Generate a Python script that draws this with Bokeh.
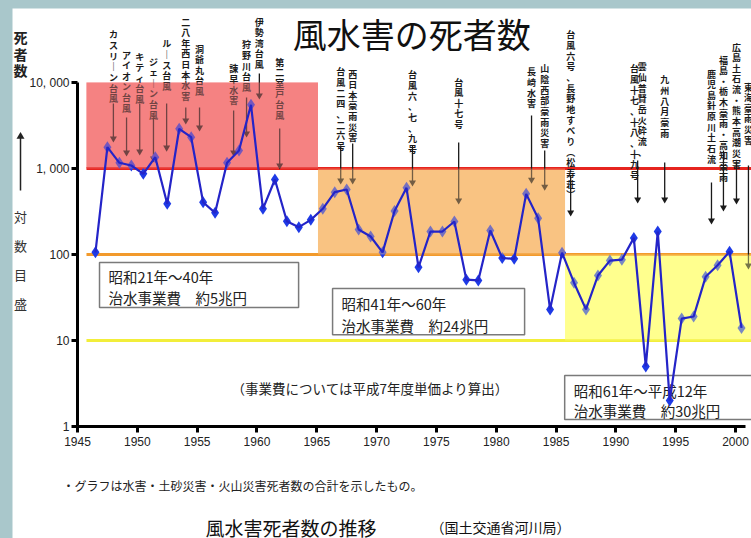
from bokeh.plotting import figure
from bokeh.models import FixedTicker
from bokeh.layouts import column
from bokeh.embed import file_html
from bokeh.resources import INLINE
from bokeh.core.properties import value

# ---------------- data ----------------
years = list(range(1946, 2001))
deaths = [106, 1770, 1165, 1084, 868, 1353, 389, 2897, 2313, 405,
          305, 1165, 1620, 5508, 340, 745, 244, 208, 253, 340,
          531, 570, 195, 162, 106, 320, 596, 71, 185, 185,
          242, 51, 50, 190, 91, 89, 507, 264, 23, 105,
          47, 23, 57, 85, 87, 156, 5, 185, 2, 18,
          19, 55, 75, 108, 14]

x_ticks = list(range(1945, 2001, 5))
y_ticks = [1, 10, 100, 1000, 10000]
y_tick_labels = ["1", "10", "100", "1, 000", "10, 000"]

# the three spending eras
period_start = [1945.75, 1965.1, 1985.75]
period_end = [1965.1, 1985.75, 2001.4]
period_low = [1000, 100, 10]
period_high = [10000, 1000, 100]
period_fill = ["#f58383", "#f9c383", "#ffff8e"]
level_values = [1000, 100, 10]
level_colors = ["#e6241f", "#f29a2c", "#f2ee3a"]

period_box_text = [["昭和21年～40年", "治水事業費　約5兆円"],
                   ["昭和41年～60年", "治水事業費　約24兆円"],
                   ["昭和61年～平成12年", "治水事業費　約30兆円"]]

# event labels (vertical text)
label_text = ["カスリーン台風", "アイオン台風", "キティ台風", "ジェーン台風", "ルース台風",
              "二八年西日本水害", "洞爺丸台風", "諫早水害", "狩野川台風", "伊勢湾台風",
              "第二室戸台風", "台風二四、二六号", "西日本豪雨災害", "台風六、七、九号",
              "台風十七号", "長崎水害", "山陰西部豪雨災害", "台風六号、長野地すべり（松寿荘）",
              "雲仙普賢岳火砕流、", "台風十七、十八、十九号", "九州八月豪雨",
              "鹿児島針原川土石流", "福島・栃木豪雨・高知豪雨", "広島土石流・熊本高潮災害",
              "東海豪雨災害"]
label_x = [1948.0, 1949.1, 1950.2, 1951.35, 1952.45,
           1954.05, 1955.2, 1958.05, 1959.13, 1960.2,
           1961.9, 1967.0, 1968.0, 1973.0,
           1976.86, 1982.95, 1984.05, 1986.22,
           1992.2, 1991.55, 1994.08,
           1997.99, 1998.99, 2000.08, 2001.08]
label_top = [42460, 24850, 23560, 20590, 33370,
             60100, 29170, 17090, 32510, 60100,
             20590, 15780, 14940, 14560,
             12060, 15780, 17090, 42460,
             18030, 17090, 12730,
             14940, 21730, 30780, 10550]

arrow_x = [1948.0, 1949.1, 1950.2, 1951.35, 1952.45,
           1954.05, 1955.2, 1958.05, 1959.13, 1960.2,
           1961.9, 1967.0, 1968.0, 1973.0,
           1976.86, 1982.95, 1984.05, 1986.22,
           1991.82, 1994.08,
           1997.99, 1998.99, 2000.08, 2001.08]
arrow_top = [5700, 3920, 5700, 3920, 5700,
             5120, 5120, 4720, 6690, 12730,
             2920, 1850, 1950, 1850,
             2005, 4130, 1620, 830,
             1240, 1175,
             687, 1620, 1175, 1083]
arrow_end = [2230, 1535, 1576, 1310, 1750,
             3610, 3000, 1535, 2553, 7060,
             1083, 725, 725, 687,
             425, 740, 614, 308,
             436, 436,
             248, 352, 425, 74.5]

JP = "Noto Sans CJK JP"


def vertical(s):
    repl = {"ー": "｜", "（": "︵", "）": "︶"}
    return "\n".join(repl.get(c, c) for c in s)


# ---------------- figure: the frame covers the whole white sheet ----------------
p = figure(width=739, height=530, x_range=(1939.567, 2001.335), y_range=(0.04985, 72530),
           y_axis_type="log", output_backend="svg", toolbar_location=None, min_border=0)
p.margin = (8, 0, 0, 12)
p.outline_line_color = None
p.grid.visible = False
p.background_fill_color = "white"
p.border_fill_color = "white"

p.xaxis.fixed_location = 1
p.yaxis.fixed_location = 1945
p.xaxis.ticker = FixedTicker(ticks=x_ticks, minor_ticks=[])
p.xaxis.bounds = (1945, 2000.8)
p.yaxis.ticker = FixedTicker(ticks=y_ticks, minor_ticks=[])
p.yaxis.bounds = (1, 10000)
p.yaxis.major_label_overrides = {t: l for t, l in zip(y_ticks, y_tick_labels)}
for ax in (p.xaxis, p.yaxis):
    ax.axis_line_width = 3
    ax.axis_line_color = "black"
    ax.major_tick_line_width = 3
    ax.major_tick_line_color = "black"
    ax.major_tick_out = 6
    ax.major_tick_in = 0
    ax.minor_tick_out = 0
    ax.major_label_text_font = "Liberation Sans"
    ax.major_label_text_font_size = "12px"
    ax.major_label_text_color = "#222222"
p.xaxis.major_label_standoff = 4
p.yaxis.major_label_standoff = 2

# period bands and reference levels
p.quad(left=period_start, right=period_end, bottom=period_low, top=period_high,
       fill_color=period_fill, line_color=None, level="underlay")
p.segment(x0=[period_start[0]] * 3, x1=[period_end[2]] * 3, y0=level_values, y1=level_values,
          line_color=level_colors, line_width=3, level="underlay")

# period text boxes
box_left = [1946.84, 1966.32, 1985.72]
box_right = [1963.48, 1982.37, 2002.1]
box_top = [80.7, 40.2, 3.92]
box_bottom = [24.2, 11.7, 1.206]
p.quad(left=box_left, right=box_right, top=box_top, bottom=box_bottom,
       fill_color="white", line_color="#7a7a7a", line_width=1.5)
text_left = [1947.59, 1967.07, 1986.47]
line1_y = [55.5, 26.9, 2.62]
line2_y = [31.6, 14.9, 1.535]
p.text(x=text_left + text_left, y=line1_y + line2_y,
       text=[t[0] for t in period_box_text] + [t[1] for t in period_box_text],
       text_font=value(JP), text_font_size="14.5px", text_color="#222222",
       text_align="left", text_baseline="middle")
p.text(x=[1957.88], y=[2.77], text=["（事業費については平成7年度単価より算出）"],
       text_font=value(JP), text_font_size="13.5px", text_color="#222222",
       text_align="left", text_baseline="middle")

# title
p.text(x=[1972.93], y=[72000], text=["風水害の死者数"], text_font=value(JP),
       text_font_size="34px", text_color="#111111", text_align="center", text_baseline="top")

# event arrows and labels
p.segment(x0=arrow_x, x1=arrow_x, y0=arrow_top, y1=arrow_end, line_color="#1a1a1a", line_width=1.3)
p.scatter(x=arrow_x, y=arrow_end, marker="inverted_triangle", size=7,
          fill_color="#1a1a1a", line_color=None)
p.text(x=label_x, y=label_top, text=[vertical(s) for s in label_text],
       text_font=value(JP), text_font_size="9px", text_font_style="bold", text_color="#1a1a1a",
       text_align="center", text_baseline="top", text_line_height=0.82)

# data
xs = [y + 0.5 for y in years]
p.scatter(x=xs, y=deaths, marker="diamond", size=12, fill_color="#1e3ae6", line_color=None)
p.quad(left=period_start, right=period_end, bottom=period_low, top=period_high,
       fill_color=period_fill, fill_alpha=0.4, line_color=None)
p.line(x=xs, y=deaths, line_color="#2424c8", line_width=2.2)

# y-axis caption (left margin of the sheet)
p.text(x=[1940.236], y=[43610], text=["死\n者\n数"], text_font=value(JP), text_font_size="14px",
       text_font_style="bold", text_color="#222222", text_align="center",
       text_baseline="top", text_line_height=0.82)
p.segment(x0=[1940.236], x1=[1940.236], y0=[555], y1=[2293], line_color="#222222", line_width=1.5)
p.scatter(x=[1940.236], y=[2356], marker="triangle", size=8, fill_color="#222222", line_color=None)
p.text(x=[1940.236], y=[352], text=["対\n数\n目\n盛"], text_font=value(JP), text_font_size="13px",
       text_color="#333333", text_align="center", text_baseline="top", text_line_height=1.52)

# bottom captions
p.text(x=[1943.746], y=[0.2061], text=["・グラフは水害・土砂災害・火山災害死者数の合計を示したもの。"],
       text_font=value(JP), text_font_size="12px", text_color="#222222",
       text_align="left", text_baseline="middle")
p.text(x=[1955.699], y=[0.0973], text=["風水害死者数の推移"], text_font=value(JP),
       text_font_size="19px", text_color="#111111", text_align="left", text_baseline="top")
p.text(x=[1974.505], y=[0.0898], text=["（国土交通省河川局）"], text_font=value(JP),
       text_font_size="14px", text_color="#111111", text_align="left", text_baseline="top")

layout = column(p, styles={"background-color": "#a9c7cb"})
open("out.html", "w").write(file_html(layout, INLINE))
